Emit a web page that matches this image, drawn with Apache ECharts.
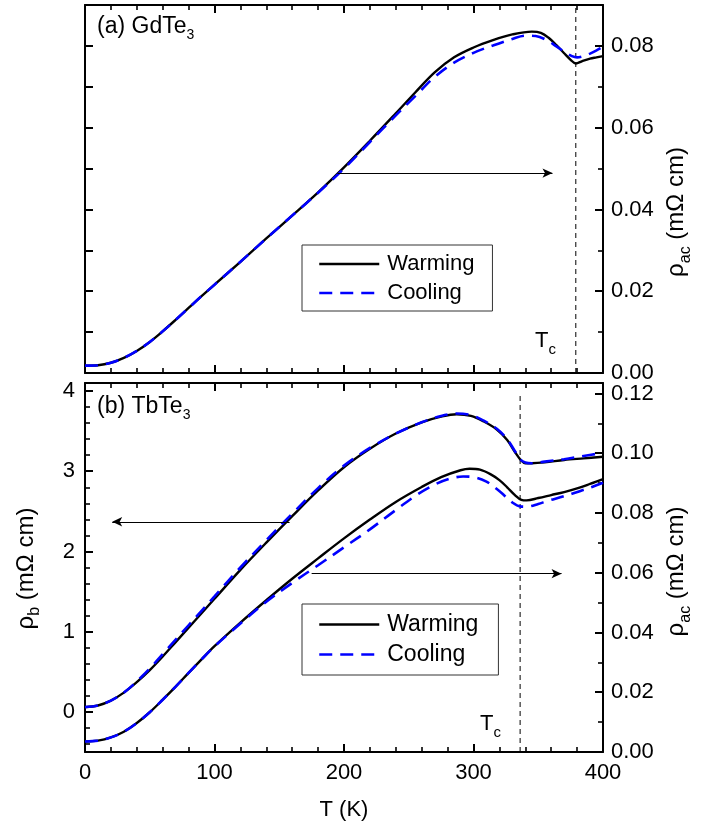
<!DOCTYPE html>
<html><head><meta charset="utf-8">
<script src="https://cdn.jsdelivr.net/npm/echarts@6/dist/echarts.min.js"></script>
<style>html,body{margin:0;padding:0;background:#fff}#c{width:702px;height:829px}</style>
</head><body><div id="c"></div>
<script>
// ---- data ----
const X_TICKS = [0, 100, 200, 300, 400];
// (a) GdTe3, rho_ac (mOhm cm)
const T_A_W = [0, 10, 20, 30, 40, 50, 60, 70, 80, 90, 100, 120, 140, 160, 180, 200, 220, 240, 255, 270, 285, 300, 315, 330, 345, 352, 358, 364, 370, 375, 379, 384, 390, 395, 400];
const V_A_W = [0.0018, 0.0019, 0.0025, 0.0037, 0.0054, 0.0076, 0.0102, 0.0130, 0.0159, 0.0188, 0.0216, 0.0272, 0.0329, 0.0385, 0.0442, 0.0503, 0.0568, 0.0635, 0.0686, 0.0735, 0.0772, 0.0796, 0.0814, 0.0828, 0.0835, 0.0832, 0.0820, 0.0802, 0.0782, 0.0766, 0.0757, 0.0763, 0.0769, 0.0772, 0.0775];
const T_A_C = [0, 10, 20, 30, 40, 50, 60, 70, 80, 90, 100, 120, 140, 160, 180, 200, 220, 240, 255, 270, 285, 300, 315, 330, 340, 348, 356, 364, 370, 376, 380, 385, 390, 395, 400];
const V_A_C = [0.0018, 0.0019, 0.0025, 0.0037, 0.0054, 0.0076, 0.0102, 0.0130, 0.0159, 0.0188, 0.0216, 0.0272, 0.0329, 0.0385, 0.0441, 0.0500, 0.0565, 0.0630, 0.0677, 0.0724, 0.0759, 0.0783, 0.0801, 0.0817, 0.0825, 0.0824, 0.0815, 0.0799, 0.0786, 0.0775, 0.0772, 0.0775, 0.0781, 0.0789, 0.0798];
// (b) TbTe3, rho_b (mOhm cm), left axis
const T_B_UW = [0, 10, 20, 30, 40, 50, 60, 70, 80, 90, 100, 120, 140, 160, 180, 200, 220, 240, 260, 275, 287, 298, 308, 318, 326, 332, 337, 340, 345, 355, 370, 385, 400];
const V_B_UW = [0.06, 0.08, 0.14, 0.24, 0.37, 0.52, 0.69, 0.87, 1.05, 1.23, 1.41, 1.77, 2.11, 2.44, 2.76, 3.05, 3.28, 3.47, 3.61, 3.68, 3.71, 3.69, 3.62, 3.52, 3.39, 3.24, 3.13, 3.10, 3.10, 3.11, 3.14, 3.16, 3.18];
const T_B_UC = [0, 10, 20, 30, 40, 50, 60, 70, 80, 90, 100, 120, 140, 160, 180, 200, 220, 240, 260, 275, 287, 298, 308, 318, 326, 332, 336, 340, 345, 355, 370, 385, 400];
const V_B_UC = [0.06, 0.08, 0.14, 0.24, 0.38, 0.54, 0.72, 0.90, 1.08, 1.26, 1.44, 1.80, 2.14, 2.47, 2.79, 3.07, 3.29, 3.47, 3.61, 3.69, 3.72, 3.70, 3.63, 3.53, 3.40, 3.25, 3.15, 3.11, 3.10, 3.12, 3.15, 3.19, 3.23];
// (b) TbTe3, rho_ac (mOhm cm), right axis
const T_B_LW = [0, 10, 20, 30, 40, 50, 60, 70, 80, 90, 100, 120, 140, 160, 180, 200, 220, 240, 260, 275, 290, 297, 305, 313, 320, 326, 332, 337, 341, 350, 360, 370, 380, 390, 400];
const V_B_LW = [0.0035, 0.0038, 0.0049, 0.0068, 0.0097, 0.0133, 0.0175, 0.0219, 0.0265, 0.0310, 0.0354, 0.0433, 0.0508, 0.0580, 0.0648, 0.0715, 0.0778, 0.0837, 0.0887, 0.0920, 0.0943, 0.0948, 0.0945, 0.0930, 0.0910, 0.0886, 0.0860, 0.0844, 0.0842, 0.0850, 0.0860, 0.0870, 0.0882, 0.0897, 0.0913];
const T_B_LC = [0, 10, 20, 30, 40, 50, 60, 70, 80, 90, 100, 120, 140, 160, 180, 200, 220, 240, 256, 270, 282, 292, 300, 310, 318, 324, 330, 336, 341, 350, 357, 370, 382, 392, 400];
const V_B_LC = [0.0035, 0.0038, 0.0049, 0.0068, 0.0097, 0.0133, 0.0175, 0.0219, 0.0265, 0.0310, 0.0353, 0.0430, 0.0503, 0.0566, 0.0625, 0.0685, 0.0745, 0.0810, 0.0860, 0.0895, 0.0915, 0.0922, 0.0920, 0.0905, 0.0880, 0.0858, 0.0835, 0.0822, 0.0821, 0.0830, 0.0840, 0.0856, 0.0873, 0.0888, 0.0901];
// transition temperatures and annotation arrows
const TC_A = 379;
const TC_B = 336;
const TC_A_RANGE = [0, 0.09];
const TC_B_RANGE = [0, 0.12];
const ARROW_A = [[195, 0.0489], [361, 0.0489]];
const ARROW_B_UP = [[158, 2.37], [21, 2.37]];
const ARROW_B_LO = [[175, 0.0597], [368, 0.0597]];
const LEGEND_NAMES = ['Warming', 'Cooling'];

// ---- chart ----
const FONT = 'Liberation Sans, Arial, Helvetica, sans-serif';
const zip = (t, v) => t.map((x, i) => [x, v[i]]);
const chart = echarts.init(document.getElementById('c'), null, {renderer: 'canvas'});

function axisLine() { return {show: true, onZero: false, lineStyle: {color: '#000', width: 2}}; }
const majorTick = () => ({show: true, inside: true, length: 8, lineStyle: {color: '#000', width: 2}});
const minorTick = (n) => ({show: true, splitNumber: n, length: 5, lineStyle: {color: '#000', width: 1.6}});
function xAx(grid, pos, labels) {
  return {
    type: 'value', gridIndex: grid, position: pos, min: 0, max: 400, interval: 100,
    axisLine: axisLine(), splitLine: {show: false},
    axisTick: majorTick(), minorTick: minorTick(5),
    axisLabel: {show: labels, margin: 10, fontSize: 22, color: '#000', fontFamily: FONT,
      formatter: v => (X_TICKS.indexOf(v) >= 0 ? String(v) : '')},
    name: labels ? 'T (K)' : '', nameLocation: 'middle', nameGap: 47,
    nameTextStyle: {fontSize: 22, color: '#000', fontFamily: FONT}
  };
}
const rich = (main, sub, pad) => ({
  m: {fontSize: main, fontFamily: FONT, color: '#000', fontWeight: 'normal'},
  s: {fontSize: sub, fontFamily: FONT, color: '#000', fontWeight: 'normal', padding: [pad, 0, 0, 0]}
});
function fmt(step) {
  return v => {
    const r = Math.round(v / step);
    return Math.abs(v - r * step) < 1e-9 ? (step < 1 ? v.toFixed(2) : String(Math.round(v))) : '';
  };
}
const legendBase = {
  data: LEGEND_NAMES, orient: 'vertical', itemWidth: 60, itemHeight: 14, itemGap: 7,
  borderColor: '#333', borderWidth: 1, selectedMode: false,
  itemStyle: {opacity: 0}, lineStyle: {opacity: 1, width: 2.5}
};

const option = {
  animation: false,
  backgroundColor: '#fff',
  grid: [
    {left: 85, right: 99, top: 5, height: 368, outerBoundsMode: 'none', containLabel: false},
    {left: 85, right: 99, top: 383, height: 369, outerBoundsMode: 'none', containLabel: false}
  ],
  xAxis: [xAx(0, 'bottom', false), xAx(0, 'top', false), xAx(1, 'bottom', true), xAx(1, 'top', false)],
  yAxis: [
    {type: 'value', gridIndex: 0, position: 'left', min: 0, max: 0.09, interval: 0.01,
      axisLine: axisLine(), splitLine: {show: false}, axisLabel: {show: false},
      axisTick: majorTick()},
    {type: 'value', gridIndex: 0, position: 'right', min: 0, max: 0.09, interval: 0.02,
      axisLine: axisLine(), splitLine: {show: false},
      axisTick: majorTick(), minorTick: minorTick(2),
      axisLabel: {margin: 8, fontSize: 22, color: '#000', fontFamily: FONT, formatter: fmt(0.02)},
      name: '{m|ρ}{s|ac}{m| (mΩ cm)}', nameLocation: 'middle', nameRotate: 90, nameGap: 53,
      nameTextStyle: {rich: rich(24, 16, 18), padding: [0, 46, 0, 0]}},
    {type: 'value', gridIndex: 1, position: 'left', min: -0.5, max: 4.1, splitNumber: 5,
      axisLine: axisLine(), splitLine: {show: false},
      axisTick: majorTick(), minorTick: minorTick(5),
      axisLabel: {margin: 10, fontSize: 22, color: '#000', fontFamily: FONT, formatter: fmt(1)},
      name: '{m|ρ}{s|b}{m| (mΩ cm)}', nameLocation: 'middle', nameRotate: 90, nameGap: 42,
      nameTextStyle: {rich: rich(24, 16, 18), padding: [0, 2, 0, 0]}},
    {type: 'value', gridIndex: 1, position: 'right', min: 0, max: 0.1235, interval: 0.02,
      axisLine: axisLine(), splitLine: {show: false},
      axisTick: majorTick(), minorTick: minorTick(2),
      axisLabel: {margin: 8, fontSize: 22, color: '#000', fontFamily: FONT, formatter: fmt(0.02)},
      name: '{m|ρ}{s|ac}{m| (mΩ cm)}', nameLocation: 'middle', nameRotate: 90, nameGap: 53,
      nameTextStyle: {rich: rich(24, 16, 18), padding: [0, 8, 0, 0]}}
  ],
  legend: [
    Object.assign({}, legendBase, {left: 302, top: 245, padding: [8, 18, 7, 16],
      textStyle: {fontSize: 22, color: '#000', fontFamily: FONT, padding: [0, 0, 0, 3]}}),
    Object.assign({}, legendBase, {left: 302, top: 604, padding: [9, 20, 9, 16],
      textStyle: {fontSize: 23, color: '#000', fontFamily: FONT, padding: [0, 0, 0, 3]}})
  ],
  title: [
    {text: '{m|(a) GdTe}{s|3}', left: 97, top: 11, padding: 0, textStyle: {rich: rich(23, 14, 17)}},
    {text: '{m|(b) TbTe}{s|3}', left: 97, top: 391, padding: 0, textStyle: {rich: rich(23, 14, 17)}},
    {text: '{m|T}{s|c}', left: 535, top: 324, padding: 0, textStyle: {rich: rich(22, 15, 18)}},
    {text: '{m|T}{s|c}', left: 480, top: 707, padding: 0, textStyle: {rich: rich(22, 15, 18)}}
  ],
  series: []
};

function curve(name, xi, yi, t, v, dashed) {
  return {
    name, type: 'line', xAxisIndex: xi, yAxisIndex: yi, data: zip(t, v), smooth: 0.35,
    showSymbol: false, symbol: 'none', silent: true, z: dashed ? 4 : 3,
    lineStyle: dashed ? {color: '#0000ff', width: 2.6, type: [13, 8]} : {color: '#000', width: 2.4},
    itemStyle: {color: dashed ? '#0000ff' : '#000'}
  };
}
function arrow(p) {
  return [{coord: p[0], symbol: 'none'}, {coord: p[1], symbol: 'arrow'}];
}
function tcLine(xi, yi, tc, range, arrows) {
  return {
    type: 'line', xAxisIndex: xi, yAxisIndex: yi, data: [[tc, range[0]], [tc, range[1]]],
    showSymbol: false, symbol: 'none', silent: true, z: 2,
    lineStyle: {color: '#000', width: 1, type: [5, 4]},
    markLine: {
      silent: true, symbol: ['none', 'arrow'], symbolSize: [7, 10], label: {show: false},
      lineStyle: {color: '#000', width: 1, type: 'solid'},
      emphasis: {disabled: true},
      data: arrows.map(arrow)
    }
  };
}
option.series.push(
  curve('Warming', 0, 1, T_A_W, V_A_W, false),
  curve('Cooling', 0, 1, T_A_C, V_A_C, true),
  curve('Warming', 2, 2, T_B_UW, V_B_UW, false),
  curve('Cooling', 2, 2, T_B_UC, V_B_UC, true),
  curve('Warming', 2, 3, T_B_LW, V_B_LW, false),
  curve('Cooling', 2, 3, T_B_LC, V_B_LC, true),
  tcLine(0, 1, TC_A, TC_A_RANGE, [ARROW_A]),
  tcLine(2, 3, TC_B, TC_B_RANGE, [ARROW_B_LO]),
  Object.assign(tcLine(2, 2, 0, [0, 0], [ARROW_B_UP]), {data: [], lineStyle: {opacity: 0}})
);
chart.setOption(option);
</script>
</body></html>
